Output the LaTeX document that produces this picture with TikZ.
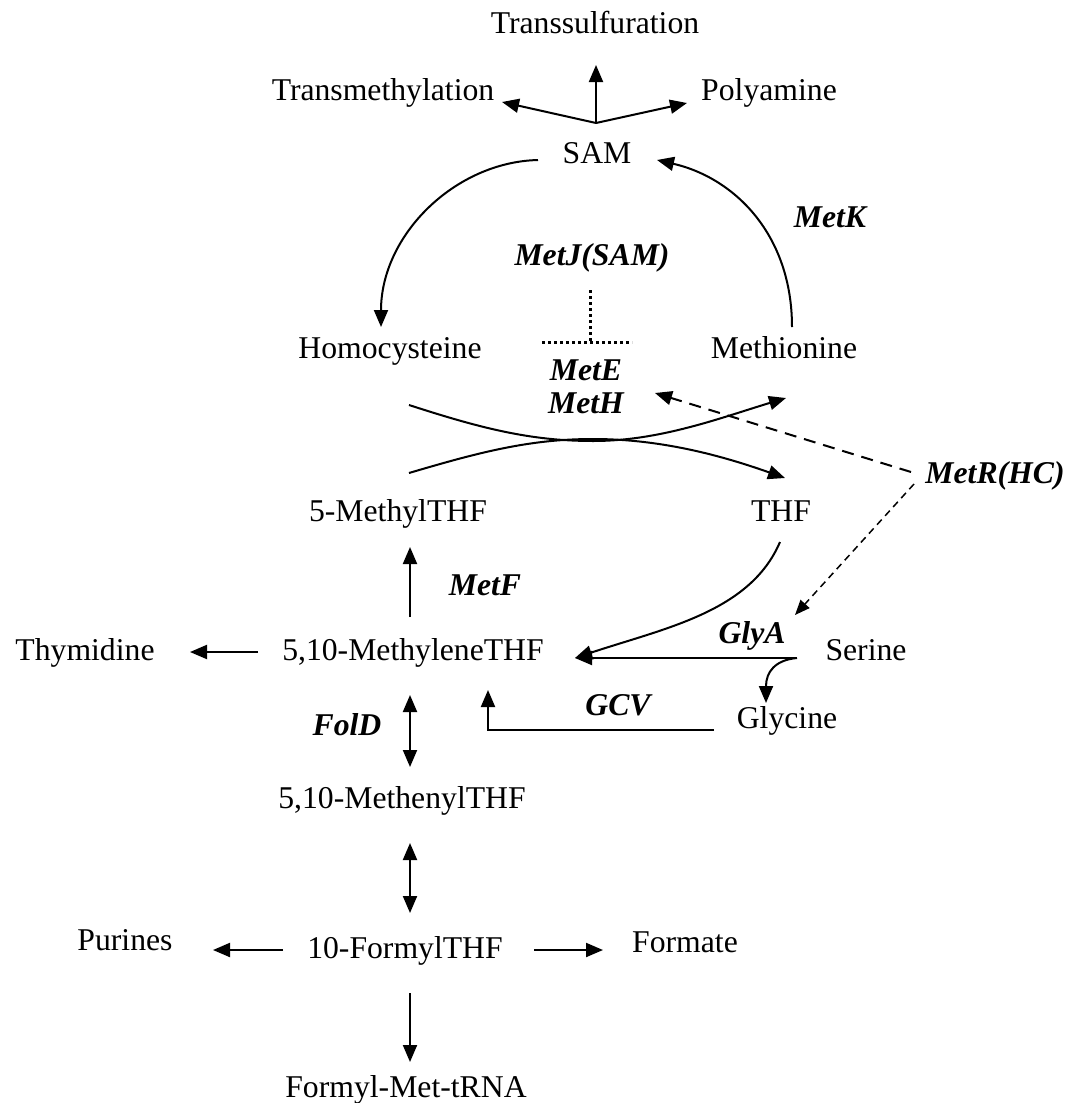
\documentclass[tikz,border=0pt]{standalone}
\usepackage{fontspec}
\setmainfont{Liberation Serif}
\usetikzlibrary{arrows.meta}
\begin{document}
\begin{tikzpicture}[x=1pt,y=-1pt,
  lbl/.style={font=\fontsize{31.7}{36}\selectfont, inner sep=0pt, anchor=base},
  enz/.style={font=\fontsize{31.7}{36}\selectfont\bfseries\itshape, inner sep=0pt, anchor=base},
  tip/.style={-{Triangle[length=17pt,width=14pt]}},
  arr/.style={line width=2pt, tip},
  dbl/.style={line width=2pt, {Triangle[length=17pt,width=14pt]}-{Triangle[length=17pt,width=14pt]}},
  dash1/.style={arr, dash pattern=on 12pt off 8pt},
  dash2/.style={line width=1.5pt, -{Triangle[length=15pt,width=12pt]}, dash pattern=on 7pt off 5pt},
  inhib/.style={line width=3pt, dash pattern=on 3pt off 3pt}]
\useasboundingbox (0,0) rectangle (1065,1103);
% nodes
\node[lbl] (trs) at (595,33) {Transsulfuration};
\node[lbl] (trm) at (383,100) {Transmethylation};
\node[lbl] (pol) at (769,100) {Polyamine};
\node[lbl] (sam) at (597,163) {SAM};
\node[enz] (metk) at (830,227) {MetK};
\node[enz] (metj) at (592,265) {MetJ(SAM)};
\node[lbl] (hcy) at (390,358) {Homocysteine};
\node[lbl] (met) at (784,358) {Methionine};
\node[enz] (mete) at (586,380) {MetE};
\node[enz] (meth) at (586,413) {MetH};
\node[lbl] (mthf) at (398,521) {5-MethylTHF};
\node[lbl] (thf) at (781,521) {THF};
\node[enz] (metr) at (995,483) {MetR(HC)};
\node[enz] (metf) at (485,595) {MetF};
\node[lbl] (mlthf) at (413,660) {5,10-MethyleneTHF};
\node[lbl] (thy) at (85,660) {Thymidine};
\node[lbl] (ser) at (866,660) {Serine};
\node[enz] (glya) at (752,643) {GlyA};
\node[lbl] (gly) at (787,728) {Glycine};
\node[enz] (gcv) at (618,715) {GCV};
\node[enz] (fold) at (347,735) {FolD};
\node[lbl] (mnthf) at (402,808) {5,10-MethenylTHF};
\node[lbl] (fthf) at (405,958) {10-FormylTHF};
\node[lbl] (pur) at (125,950) {Purines};
\node[lbl] (form) at (685,952) {Formate};
\node[lbl] (fmet) at (406,1097) {Formyl-Met-tRNA};
% coordinates
\coordinate (br) at (596,123);
\coordinate (trsT) at (596,65);
\coordinate (trmT) at (502,102);
\coordinate (polT) at (687,103);
\coordinate (samL) at (538,160);
\coordinate (hcyT) at (381,327);
\coordinate (metS) at (792,327);
\coordinate (samR) at (657,160);
\coordinate (inhA) at (590,290);
\coordinate (inhB) at (590,342);
\coordinate (inhL) at (542,342);
\coordinate (inhR) at (632,342);
\coordinate (hcyS) at (409,405);
\coordinate (mthfN) at (409,473);
\coordinate (metT) at (786,398);
\coordinate (thfT) at (785,478);
\coordinate (metrA) at (911,472);
\coordinate (methT) at (655,393);
\coordinate (metrB) at (914,484);
\coordinate (glyaT) at (795,615);
\coordinate (mlN) at (410,617);
\coordinate (mthfS) at (410,547);
\coordinate (mlW) at (258,652);
\coordinate (thyE) at (190,652);
\coordinate (thfS) at (780,542);
\coordinate (mlE) at (575,658);
\coordinate (serW) at (797,658);
\coordinate (glyN) at (766,703);
\coordinate (glyW) at (714,730);
\coordinate (gcvC) at (488,730);
\coordinate (mlS) at (488,690);
\coordinate (fdA) at (410,695);
\coordinate (fdB) at (410,767);
\coordinate (mnA) at (410,843);
\coordinate (mnB) at (410,913);
\coordinate (fW) at (283,950);
\coordinate (purE) at (213,950);
\coordinate (fE) at (534,950);
\coordinate (formW) at (603,950);
\coordinate (fS) at (410,993);
\coordinate (fmN) at (410,1062);
% connectors
\draw[arr] (br) -- (trsT);
\draw[arr] (br) -- (trmT);
\draw[arr] (br) -- (polT);
\draw[arr] (samL) .. controls (455,162) and (381,235) .. (hcyT);
\draw[arr] (metS) .. controls (792,235) and (735,178) .. (samR);
\draw[inhib] (inhA) -- (inhB);
\draw[inhib] (inhL) -- (inhR);
\draw[arr] (hcyS) .. controls (480,428) and (530,441) .. (593,441) .. controls (660,441) and (720,418) .. (metT);
\draw[arr] (mthfN) .. controls (480,452) and (530,439) .. (593,439) .. controls (660,439) and (720,455) .. (thfT);
\draw[dash1] (metrA) -- (methT);
\draw[dash2] (metrB) -- (glyaT);
\draw[arr] (mlN) -- (mthfS);
\draw[arr] (mlW) -- (thyE);
\draw[arr] (thfS) .. controls (750,612) and (665,628) .. (mlE);
\draw[arr] (serW) -- (mlE);
\draw[arr] (serW) .. controls (775,660) and (766,672) .. (glyN);
\draw[arr] (glyW) -- (gcvC) -- (mlS);
\draw[dbl] (fdA) -- (fdB);
\draw[dbl] (mnA) -- (mnB);
\draw[arr] (fW) -- (purE);
\draw[arr] (fE) -- (formW);
\draw[arr] (fS) -- (fmN);
\end{tikzpicture}
\end{document}
